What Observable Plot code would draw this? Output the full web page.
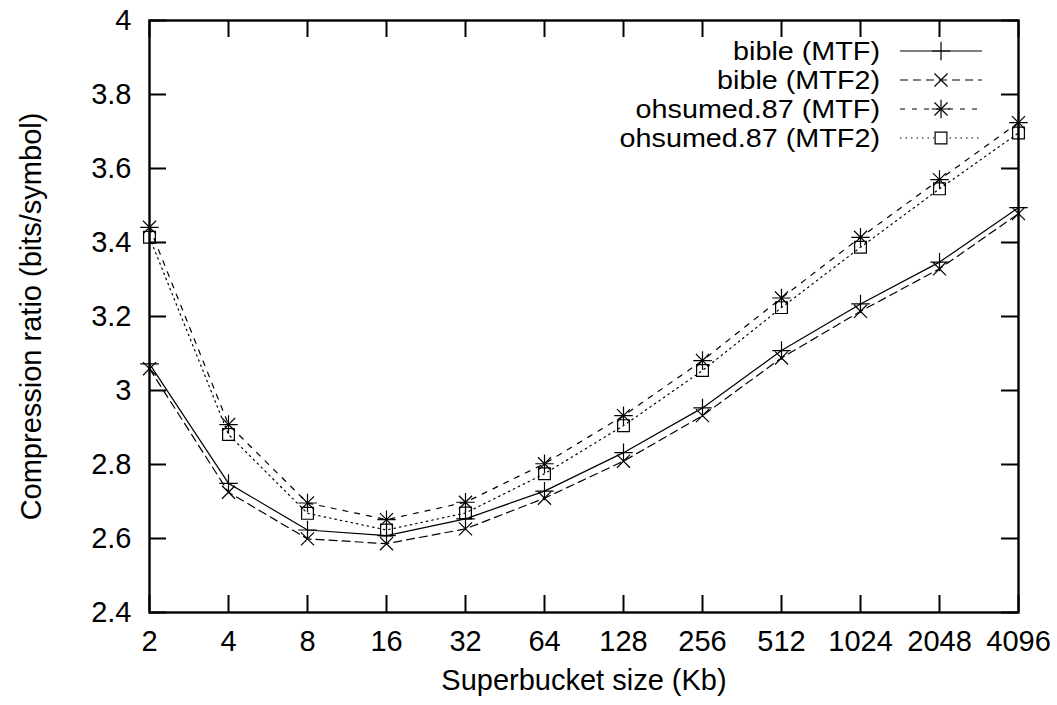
<!DOCTYPE html>
<html>
<head>
<meta charset="utf-8">
<script src="https://cdn.jsdelivr.net/npm/d3@7"></script>
<script src="https://cdn.jsdelivr.net/npm/@observablehq/plot@0.6"></script>
<style>
  html, body { margin: 0; padding: 0; background: #fff; }
  #chart svg { display: block; }
</style>
</head>
<body>
<div id="chart"></div>
<script>
// ---- data ----
const sizes = [2, 4, 8, 16, 32, 64, 128, 256, 512, 1024, 2048, 4096];
const yTicks = [2.4, 2.6, 2.8, 3.0, 3.2, 3.4, 3.6, 3.8, 4.0];
const seriesNames = ["bible (MTF)", "bible (MTF2)", "ohsumed.87 (MTF)", "ohsumed.87 (MTF2)"];
const bibleMTF    = [3.072, 2.749, 2.623, 2.608, 2.653, 2.728, 2.832, 2.953, 3.108, 3.234, 3.347, 3.494];
const bibleMTF2   = [3.059, 2.725, 2.599, 2.586, 2.626, 2.709, 2.809, 2.932, 3.088, 3.214, 3.329, 3.478];
const ohsumedMTF  = [3.441, 2.908, 2.696, 2.651, 2.698, 2.802, 2.932, 3.081, 3.250, 3.414, 3.570, 3.724];
const ohsumedMTF2 = [3.414, 2.881, 2.668, 2.623, 2.669, 2.775, 2.905, 3.054, 3.224, 3.387, 3.545, 3.696];
const xLabel = "Superbucket size (Kb)";
const yLabel = "Compression ratio (bits/symbol)";

// ---- styles ----
const W = 1057, H = 705;
const M = {top: 20, right: 39, bottom: 93, left: 149};
const innerW = W - M.left - M.right, innerH = H - M.top - M.bottom;
const FS = 29;
const LEGEND_FS = 25;
const LEGEND_STRETCH = 1.15;
const FONT = "'Liberation Sans', Arial, Helvetica, sans-serif";
const dashes = [null, "8,5", "5,7", "1.5,4"];
const symbolSets = [["plus"], ["times"], ["plus", "times"], ["square2"]];
const symbolR = {plus: 6, times: 6, square2: 7.5};
const d3Sym = {plus: d3.symbolPlus, times: d3.symbolTimes, square2: d3.symbolSquare2};

const allValues = [bibleMTF, bibleMTF2, ohsumedMTF, ohsumedMTF2];
const table = seriesNames.map((name, i) => sizes.map((s, j) => ({series: name, size: s, value: allValues[i][j]})));

const marks = [];
// series lines
table.forEach((rows, i) => {
  marks.push(Plot.line(rows, {x: "size", y: "value", stroke: "black", strokeWidth: 1.2,
    strokeDasharray: dashes[i] ?? undefined}));
});
// symbols
table.forEach((rows, i) => {
  symbolSets[i].forEach(sym => {
    marks.push(Plot.dot(rows, {x: "size", y: "value", symbol: sym, r: symbolR[sym],
      stroke: "black", fill: "none", strokeWidth: 1.2}));
  });
});
// ticks (inward, mirrored as in gnuplot)
marks.push(Plot.tickX(sizes, {x: d => d, insetTop: innerH - 17, strokeWidth: 2}));
marks.push(Plot.tickX(sizes, {x: d => d, insetBottom: innerH - 17, strokeWidth: 2}));
marks.push(Plot.tickY(yTicks, {y: d => d, insetRight: innerW - 17, strokeWidth: 2}));
marks.push(Plot.tickY(yTicks, {y: d => d, insetLeft: innerW - 17, strokeWidth: 2}));
marks.push(Plot.frame({stroke: "black", strokeWidth: 2.4}));
// axes text
marks.push(Plot.axisX(sizes, {anchor: "bottom", tickSize: 0, tickPadding: 18, tickFormat: d => String(d),
  label: null, fontSize: FS, fill: "black"}));
marks.push(Plot.axisY(yTicks, {anchor: "left", tickSize: 0, tickPadding: 18,
  tickFormat: d => String(+d.toFixed(1)), label: null, fontSize: FS, fill: "black"}));
marks.push(Plot.text([xLabel], {text: d => d, frameAnchor: "bottom", textAnchor: "middle", dy: 77, fontSize: FS, fill: "black"}));
marks.push(Plot.text([yLabel], {text: d => d, frameAnchor: "left", textAnchor: "middle", rotate: -90, dx: -118, fontSize: FS, fill: "black"}));

// legend (inside top right)
marks.push(function legend(index, scales, values, dimensions) {
  const dims = dimensions || {width: W, marginRight: M.right, marginTop: M.top};
  const right = dims.width - dims.marginRight;
  const g = d3.create("svg:g");
  const textX = right - 138, lineX1 = right - 118, lineX2 = right - 36, symX = (lineX1 + lineX2) / 2;
  seriesNames.forEach((name, i) => {
    const cy = dims.marginTop + 31 + i * 29;
    g.append("text").attr("transform", `translate(${textX},${cy}) scale(${LEGEND_STRETCH},1)`)
      .attr("dy", "0.35em")
      .attr("text-anchor", "end").attr("font-size", LEGEND_FS).attr("font-family", FONT)
      .attr("fill", "black").text(name);
    g.append("line").attr("x1", lineX1).attr("x2", lineX2).attr("y1", cy).attr("y2", cy)
      .attr("stroke", "black").attr("stroke-width", 1.2)
      .attr("stroke-dasharray", dashes[i]);
    symbolSets[i].forEach(sym => {
      g.append("path").attr("transform", `translate(${symX},${cy})`)
        .attr("d", d3.symbol(d3Sym[sym], Math.PI * symbolR[sym] ** 2)())
        .attr("fill", sym === "square2" ? "white" : "none").attr("stroke", "black").attr("stroke-width", 1.2);
    });
  });
  return g.node();
});

const chart = Plot.plot({
  width: W, height: H,
  marginTop: M.top, marginRight: M.right, marginBottom: M.bottom, marginLeft: M.left,
  style: {fontFamily: FONT, fontSize: FS + "px", background: "white", color: "black"},
  x: {type: "log", base: 2, domain: [2, 4096]},
  y: {type: "linear", domain: [2.4, 4]},
  marks
});
document.getElementById("chart").appendChild(chart);
</script>
</body>
</html>
